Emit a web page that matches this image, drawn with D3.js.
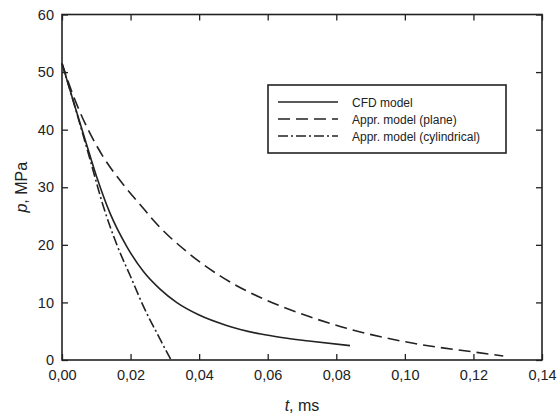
<!DOCTYPE html>
<html>
<head>
<meta charset="utf-8">
<script src="https://cdn.jsdelivr.net/npm/d3@7"></script>
<style>
  body { margin: 0; background: #fff; }
  text { font-family: "Liberation Sans", Arial, sans-serif; fill: #222; }
</style>
</head>
<body>
<svg id="chart" width="557" height="419"></svg>
<script>
const width = 557;
const height = 419;
const margin = { top: 14.5, right: 15, bottom: 59, left: 62 };
const ink = "#222";

// t in ms, p in MPa
const cfdT = [0, 0.004, 0.008, 0.0104, 0.014, 0.0189, 0.0237, 0.0286, 0.0334, 0.040, 0.048, 0.058, 0.064, 0.072, 0.084];
const cfdP = [51.5, 43.6, 35.8, 31.3, 25.5, 19.7, 15.4, 12.3, 10.0, 7.8, 6.0, 4.5, 3.9, 3.3, 2.5];

const planeT = [0, 0.0033, 0.0043, 0.012, 0.0169, 0.0242, 0.0266, 0.0364, 0.0461, 0.0577, 0.0636, 0.0723, 0.083, 0.1025, 0.12, 0.1287];
const planeP = [51.5, 45.9, 44.4, 35.3, 31.2, 26.0, 24.3, 18.8, 14.6, 10.9, 9.4, 7.5, 5.5, 2.9, 1.4, 0.7];

const cylT = [0, 0.004, 0.008, 0.012, 0.016, 0.020, 0.024, 0.028, 0.0318];
const cylP = [51.5, 43.5, 35.2, 26.8, 20.0, 14.5, 9.0, 4.3, 0.0];

const seriesNames = ["CFD model", "Appr. model (plane)", "Appr. model (cylindrical)"];
const seriesDash = [null, "12,6", "10,3,2,3"];

const xTicks = [0, 0.02, 0.04, 0.06, 0.08, 0.10, 0.12, 0.14];
const yTicks = [0, 10, 20, 30, 40, 50, 60];

const svg = d3.select("#chart");

const x = d3.scaleLinear().domain([0, 0.14]).range([margin.left, width - margin.right]);
const y = d3.scaleLinear().domain([0, 60]).range([height - margin.bottom, margin.top]);

const fmt = (d) => d3.format(".2f")(d).replace(".", ",");

// Axes with inward ticks on all four sides
const xAxis = d3.axisBottom(x).tickValues(xTicks).tickSize(-6).tickPadding(10).tickFormat(fmt);
const yAxis = d3.axisLeft(y).tickValues(yTicks).tickSize(-6).tickPadding(8).tickFormat((d) => d);

svg.append("g").attr("transform", `translate(0,${height - margin.bottom})`).call(xAxis);
svg.append("g").attr("transform", `translate(${margin.left},0)`).call(yAxis);
svg.append("g").attr("transform", `translate(0,${margin.top})`)
  .call(d3.axisTop(x).tickValues(xTicks).tickSize(-6).tickFormat(""));
svg.append("g").attr("transform", `translate(${width - margin.right},0)`)
  .call(d3.axisRight(y).tickValues(yTicks).tickSize(-6).tickFormat(""));

svg.selectAll(".domain").remove();
svg.selectAll(".tick line").attr("stroke", ink).attr("stroke-width", 1.3);
svg.selectAll(".tick text").style("font-size", "14.5px").attr("fill", ink);

// frame
svg.append("rect")
  .attr("x", margin.left).attr("y", margin.top)
  .attr("width", width - margin.left - margin.right)
  .attr("height", height - margin.top - margin.bottom)
  .attr("fill", "none").attr("stroke", ink).attr("stroke-width", 1.6);

// curves
const line = d3.line().curve(d3.curveMonotoneX).x((d) => x(d[0])).y((d) => y(d[1]));
const series = [
  d3.zip(cfdT, cfdP),
  d3.zip(planeT, planeP),
  d3.zip(cylT, cylP)
];
svg.selectAll(".curve").data(series).enter().append("path")
  .attr("class", "curve")
  .attr("d", line)
  .attr("fill", "none")
  .attr("stroke", ink)
  .attr("stroke-width", 1.6)
  .attr("stroke-dasharray", (d, i) => seriesDash[i]);

// legend
const lg = svg.append("g");
lg.append("rect").attr("x", 268).attr("y", 85).attr("width", 238).attr("height", 68)
  .attr("fill", "#fff").attr("stroke", ink).attr("stroke-width", 1.6);
seriesNames.forEach((name, i) => {
  const ly = 102 + i * 17;
  lg.append("line").attr("x1", 278).attr("x2", 338).attr("y1", ly).attr("y2", ly)
    .attr("stroke", ink).attr("stroke-width", 1.6).attr("stroke-dasharray", seriesDash[i]);
  lg.append("text").attr("x", 352).attr("y", ly + 4.5).style("font-size", "12px").text(name);
});

// axis titles
const xt = svg.append("text").attr("x", (margin.left + width - margin.right) / 2).attr("y", 411)
  .attr("text-anchor", "middle").style("font-size", "16px");
xt.append("tspan").style("font-style", "italic").text("t");
xt.append("tspan").text(", ms");

const yt = svg.append("text")
  .attr("transform", `translate(27,${(margin.top + height - margin.bottom) / 2}) rotate(-90)`)
  .attr("text-anchor", "middle").style("font-size", "16px");
yt.append("tspan").style("font-style", "italic").text("p");
yt.append("tspan").text(", MPa");
</script>
</body>
</html>
